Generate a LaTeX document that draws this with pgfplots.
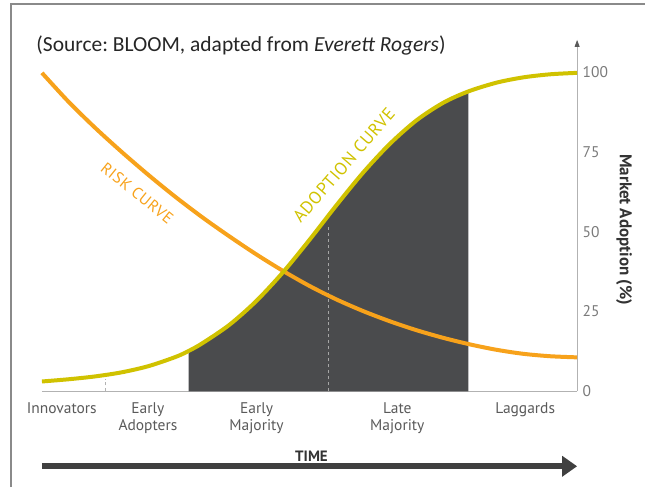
\documentclass[border=0pt]{standalone}
\usepackage{fontspec}
\setmainfont{Carlito}
\newfontfamily\optfont{PT Sans}
\newfontfamily\capsfont[LetterSpace=4]{PT Sans}
\usepackage{pgfplots}
\usepackage{pgfplotstable}
\pgfplotsset{compat=1.18}
\usetikzlibrary{arrows.meta}
\definecolor{riskc}{HTML}{F7A21B}
\definecolor{adoptc}{HTML}{D0C200}
\definecolor{darkfill}{HTML}{4A4B4D}
\definecolor{framec}{HTML}{8A8A8A}
\definecolor{labc}{HTML}{5A5A5A}
\definecolor{tickc}{HTML}{7A7A7A}
\frenchspacing

\pgfplotstableread{
t a
0 3.1
5 3.8
10 4.7
15 6.0
20 7.95
25 10.8
27.4 12.65
30 15.1
35 20.8
40 28.2
45 37.2
50 47.45
55 58.2
60 68.45
65 77.45
70 84.85
75 90.35
79.7 93.9
85 96.65
90 98.3
95 99.25
100 99.7
}\adoption

\pgfplotstableread{
t r
0 99.7
5 90.6
10 82.4
15 74.8
20 67.6
25 60.8
30 54.45
35 48.55
40 42.95
45 37.75
50 33.0
55 28.8
60 25.15
65 21.95
70 19.15
75 16.75
80 14.7
85 13.0
90 11.75
95 11.0
100 10.65
}\risk

\begin{document}
\begin{tikzpicture}
\path (0pt,0pt) rectangle (646pt,488pt);
\draw[framec, line width=2pt] (11pt,0pt) -- (11pt,484pt) -- (646pt,484pt);
\node[anchor=west, font=\fontsize{21.5}{22}\selectfont, text=black!85] at (33pt,442pt) {(Source: BLOOM, adapted from \textit{Everett Rogers})};
\begin{axis}[
 at={(42pt,96pt)}, anchor=south west,
 scale only axis, width=536pt, height=352pt,
 xmin=0, xmax=100, ymin=0, ymax=110,
 axis x line=bottom, axis y line=right,
 x axis line style={-, draw=black!30, line width=0.8pt},
 y axis line style={-{Triangle[length=7pt,width=5pt,color=black!65]}, draw=black!30, line width=0.8pt},
 ytick={0,25,50,75,100},
 xtick={3.7,19.8,40.1,66.4,90.3},
 xticklabels={Innovators,{Early\\Adopters},{Early\\Majority},{Late\\Majority},Laggards},
 xticklabel style={align=center, font=\optfont\fontsize{15.5}{16.5}\selectfont, text=labc, yshift=-8pt},
 yticklabel style={font=\optfont\fontsize{15.5}{16}\selectfont, text=tickc, xshift=2pt},
 /pgf/number format/assume math mode=true,
 major tick length=0pt,
 clip=false,
]
\addplot[draw=none, fill=darkfill, smooth, restrict x to domain=27.4:79.7] table[x=t,y=a]{\adoption} \closedcycle;
\addplot[dashed, draw=black!30, line width=0.8pt] coordinates {(11.9,0) (11.9,4)};
\addplot[dashed, draw=black!35, line width=0.8pt] coordinates {(53.5,0) (53.5,52)};
\addplot[riskc, line width=4pt, smooth] table[x=t,y=r]{\risk};
\addplot[adoptc, line width=4pt, smooth] table[x=t,y=a]{\adoption};
\node[rotate=-39, text=riskc, font=\capsfont\fontsize{16}{16}\selectfont] at (axis cs:17.8,62.0) {RISK CURVE};
\node[rotate=49, text=adoptc, font=\capsfont\fontsize{17.5}{17.5}\selectfont] at (axis cs:56.4,70.8) {ADOPTION CURVE};
\end{axis}
\node[rotate=-90, font=\optfont\bfseries\fontsize{17}{17}\selectfont, text=black!80] at (625pt,258pt) {Market Adoption (\%)};
\draw[line width=6pt, black!75, -{Triangle[length=15pt,width=20pt]}] (42pt,21pt) -- (578pt,21pt);
\node[font=\optfont\bfseries\fontsize{15}{15}\selectfont, text=black!80] at (312pt,31pt) {TIME};
\end{tikzpicture}
\end{document}
